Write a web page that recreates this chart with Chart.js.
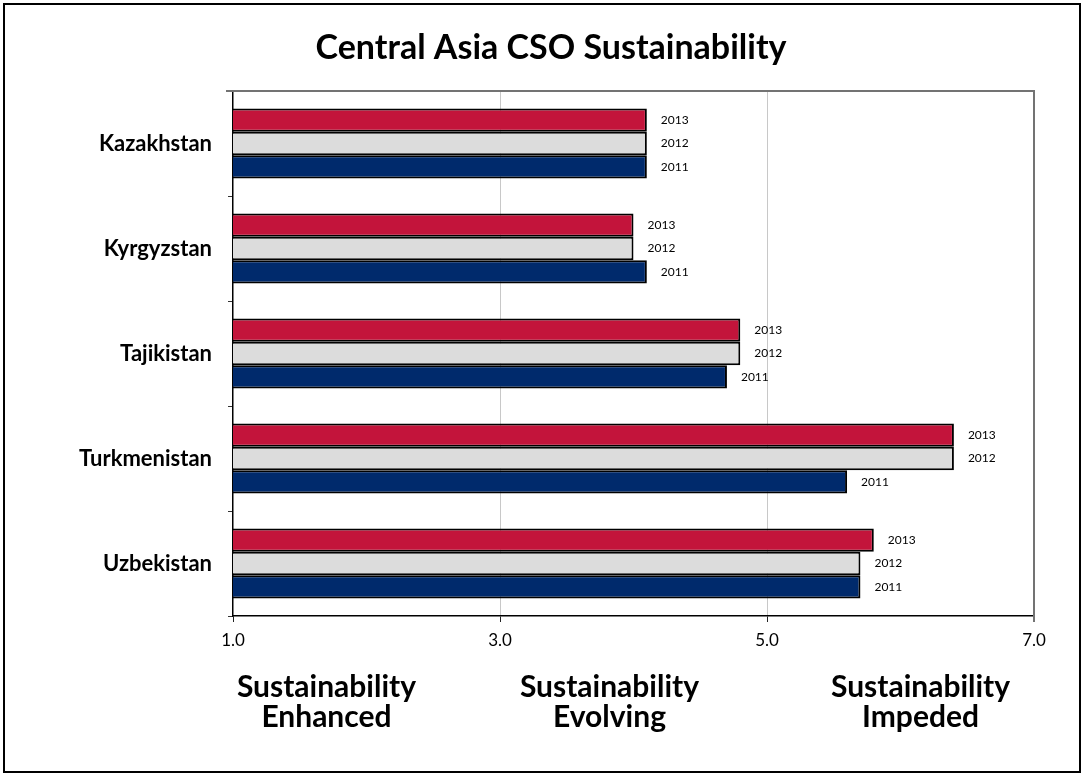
<!DOCTYPE html>
<html>
<head>
<meta charset="utf-8">
<script src="https://cdn.jsdelivr.net/npm/chart.js@4"></script>
<style>
  html, body { margin: 0; padding: 0; background: #fff; }
  canvas { display: block; }
</style>
</head>
<body>
<canvas id="chart" width="1084" height="776"></canvas>
<script>
const countries = ['Kazakhstan', 'Kyrgyzstan', 'Tajikistan', 'Turkmenistan', 'Uzbekistan'];
const years = ['2013', '2012', '2011'];
const scores2013 = [4.1, 4.0, 4.8, 6.4, 5.8];
const scores2012 = [4.1, 4.0, 4.8, 6.4, 5.7];
const scores2011 = [4.1, 4.1, 4.7, 5.6, 5.7];
const xTicks = [1, 3, 5, 7];
const titleText = 'Central Asia CSO Sustainability';
const bottomLabels = [['Sustainability', 'Enhanced'], ['Sustainability', 'Evolving'], ['Sustainability', 'Impeded']];
const bottomLabelAt = [1.7, 3.82, 6.15];

const FONT = 'Lato, "Open Sans", sans-serif';

// year text next to every bar + frame + title + the three captions under the axis
const extras = {
    id: 'extras',
    afterDatasetsDraw(chart){
        const ctx = chart.ctx;
        ctx.save();
        ctx.fillStyle = '#000';
        ctx.font = '12px ' + FONT;
        ctx.textBaseline = 'middle';
        ctx.textAlign = 'left';
        chart.data.datasets.forEach((ds, i) => {
            chart.getDatasetMeta(i).data.forEach(bar => {
                ctx.fillText(ds.label, bar.x + 14, bar.y);
            });
        });
        ctx.restore();
    },
    afterDraw(chart){
        const ctx = chart.ctx;
        const a = chart.chartArea;
        const x = chart.scales.x;
        ctx.save();
        ctx.strokeStyle = '#737373';
        ctx.lineWidth = 2;
        ctx.beginPath();
        ctx.moveTo(a.left - 7, a.top);
        ctx.lineTo(a.right, a.top);
        ctx.lineTo(a.right, a.bottom + 6);
        ctx.stroke();

        ctx.strokeStyle = '#000';
        ctx.lineWidth = 2;
        ctx.strokeRect(4, 4, chart.width - 8, chart.height - 8);

        ctx.fillStyle = '#000';
        ctx.textAlign = 'center';
        ctx.textBaseline = 'alphabetic';
        ctx.font = 'bold 34px ' + FONT;
        ctx.fillText(titleText, 551, 59);

        ctx.font = 'bold 30px ' + FONT;
        bottomLabels.forEach((lines, i) => {
            const px = x.getPixelForValue(bottomLabelAt[i]);
            lines.forEach((t, j) => ctx.fillText(t, px, 697 + j * 30));
        });
        ctx.restore();
    }
};

function init(){
    const ctx = document.getElementById('chart').getContext('2d');
    new Chart(ctx, {
        type: 'bar',
        data: {
            labels: countries,
            datasets: [
                {label: years[0], data: scores2013, backgroundColor: '#C3143B'},
                {label: years[1], data: scores2012, backgroundColor: '#DCDCDC'},
                {label: years[2], data: scores2011, backgroundColor: '#002A6C'}
            ].map(d => Object.assign(d, {
                borderColor: '#000',
                borderWidth: 2,
                borderSkipped: false,
                barPercentage: 1.0,
                categoryPercentage: 0.667
            }))
        },
        options: {
            indexAxis: 'y',
            responsive: false,
            animation: false,
            layout: {padding: {left: 0, right: 50, top: 91, bottom: 0}},
            plugins: {
                legend: {display: false},
                tooltip: {enabled: false},
                title: {display: false}
            },
            scales: {
                x: {
                    min: 1,
                    max: 7,
                    afterBuildTicks: s => { s.ticks = xTicks.map(v => ({value: v})); },
                    afterFit: s => { s.height = 160; },
                    ticks: {
                        color: '#000',
                        padding: 8,
                        font: {family: FONT, size: 17},
                        callback: v => Number(v).toFixed(1)
                    },
                    grid: {
                        color: ctx => (ctx.tick && (ctx.tick.value === 3 || ctx.tick.value === 5)) ? '#C8C8C8' : 'rgba(0,0,0,0)',
                        lineWidth: 1,
                        drawTicks: true,
                        tickLength: 6,
                        tickColor: '#222'
                    },
                    border: {display: true, color: '#000', width: 1.5}
                },
                y: {
                    afterFit: s => { s.width = 233; },
                    ticks: {
                        color: '#000',
                        padding: 16,
                        font: {family: FONT, size: 22, weight: 'bold'}
                    },
                    grid: {
                        offset: true,
                        drawOnChartArea: false,
                        drawTicks: true,
                        tickLength: 5,
                        tickColor: '#333'
                    },
                    border: {display: true, color: '#000', width: 1.5}
                }
            }
        },
        plugins: [extras]
    });
}
init();
</script>
</body>
</html>
